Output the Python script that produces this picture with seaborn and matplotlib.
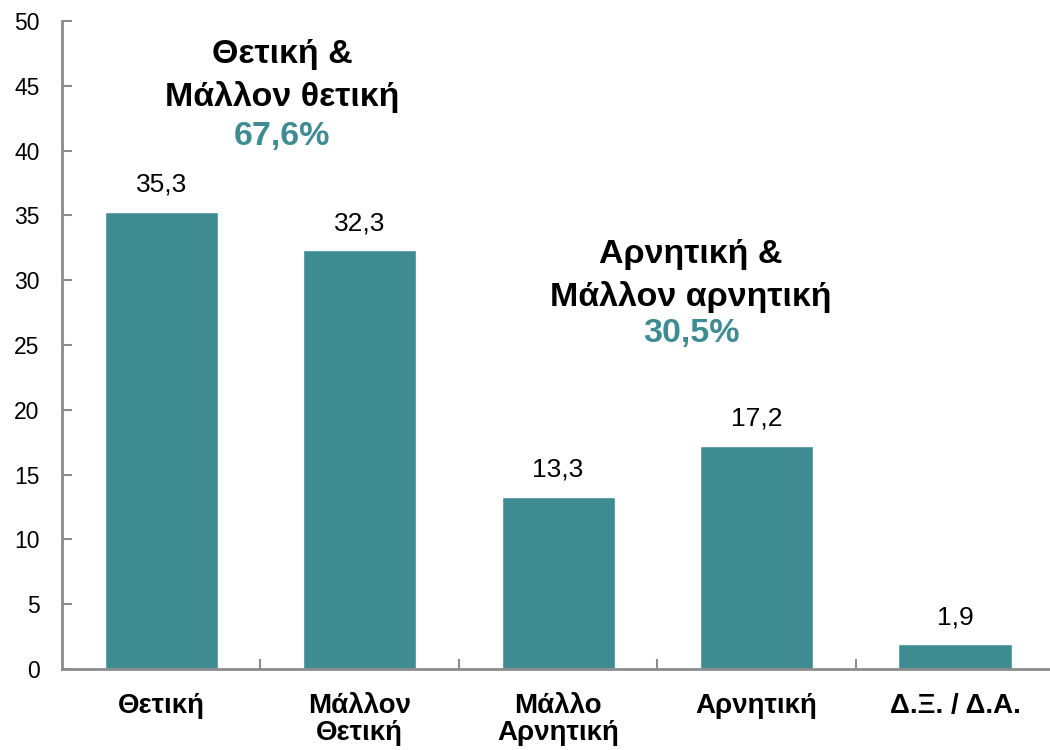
import matplotlib
matplotlib.use("Agg")
import matplotlib.pyplot as plt
import seaborn as sns
import pandas as pd

# data
categories = ["Θετική", "Μάλλον\nΘετική", "Μάλλο\nΑρνητική", "Αρνητική", "Δ.Ξ. / Δ.Α."]
values = [35.3, 32.3, 13.3, 17.2, 1.9]
value_labels = ["35,3", "32,3", "13,3", "17,2", "1,9"]
yticks = [0, 5, 10, 15, 20, 25, 30, 35, 40, 45, 50]

sns.set_style("white")
plt.rcParams["font.family"] = ["Liberation Sans", "DejaVu Sans"]
plt.rcParams["text.color"] = "black"
plt.rcParams["xtick.color"] = "black"
plt.rcParams["ytick.color"] = "black"

teal = "#3e8c92"
gray = "#8c8c8c"

df = pd.DataFrame({"cat": categories, "val": values})

fig = plt.figure(figsize=(10.5, 7.5), dpi=100)
ax = fig.add_axes([0.059, 0.108, 0.945, 0.864])
sns.barplot(data=df, x="cat", y="val", color=teal, width=0.57, saturation=1, ax=ax)

for i, (v, lab) in enumerate(zip(values, value_labels)):
    ax.text(i, v + 2.1, lab, ha="center", va="center", fontsize=19, color="black")

ax.set_ylim(0, 50)
ax.set_xlim(-0.5, 4.5)
ax.set_yticks(yticks)
ax.set_ylabel("")
ax.set_xlabel("")
ax.tick_params(axis="y", left=True, direction="in", length=7, width=1.5, color=gray,
               labelsize=16.5, labelcolor="black", pad=16)
ax.tick_params(axis="x", which="major", length=0, labelsize=20, pad=17, labelcolor="black")
for t in ax.get_xticklabels():
    t.set_fontweight("bold")
    t.set_linespacing(1.05)

# category separators as small upward ticks on the bottom spine
ax.set_xticks([0.5, 1.5, 2.5, 3.5], minor=True)
ax.tick_params(axis="x", which="minor", bottom=True, direction="in", length=7, width=1.5, color=gray)

for s in ["top", "right"]:
    ax.spines[s].set_visible(False)
for s in ["left", "bottom"]:
    ax.spines[s].set_color(gray)
    ax.spines[s].set_linewidth(2)

# group annotations
ax.text(0.61, 47.4, "Θετική &", ha="center", va="center", fontsize=24.5, fontweight="bold")
ax.text(0.61, 44.1, "Μάλλον θετική", ha="center", va="center", fontsize=24.5, fontweight="bold")
ax.text(0.61, 41.1, "67,6%", ha="center", va="center", fontsize=24.5,
        fontweight="bold", color=teal)
ax.text(2.67, 32.0, "Αρνητική &", ha="center", va="center", fontsize=24.5, fontweight="bold")
ax.text(2.67, 28.7, "Μάλλον αρνητική", ha="center", va="center", fontsize=24.5, fontweight="bold")
ax.text(2.67, 25.85, "30,5%", ha="center", va="center", fontsize=24.5,
        fontweight="bold", color=teal)

fig.savefig("out.png", dpi=100)
